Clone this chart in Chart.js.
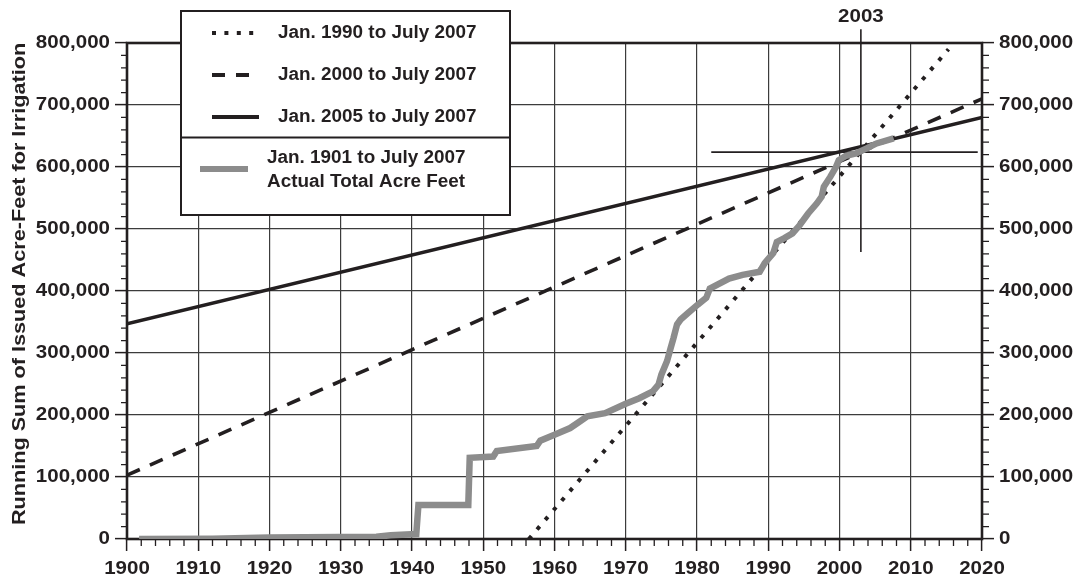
<!DOCTYPE html>
<html>
<head>
<meta charset="utf-8">
<script src="https://cdn.jsdelivr.net/npm/chart.js@4.4.1/dist/chart.umd.min.js"></script>
<style>
  html, body { margin: 0; padding: 0; background: #fff; }
  #wrap { width: 1076px; height: 577px; position: relative; }
</style>
</head>
<body>
<div id="wrap"><canvas id="chart"></canvas></div>
<script>
/* ---------- Daten ---------- */
// Tatsächliche Summe (Jahr / Acre-Feet)
const ACTUAL_YEARS = [1901.7, 1912, 1920, 1935, 1937, 1940.6, 1940.9, 1947.9, 1948.1, 1951.4, 1951.9,
  1957.5, 1958, 1960, 1962.2, 1963.6, 1964.6, 1967.1, 1970, 1971.9, 1973.8, 1974.6, 1975, 1975.8,
  1976.3, 1976.7, 1977.2, 1977.7, 1978.7, 1980.1, 1981.3, 1981.8, 1984.5, 1986.4, 1988.8, 1989.5,
  1990.7, 1991.2, 1992.2, 1993.4, 1994.4, 1995.6, 1996.8, 1997.5, 1997.8, 1998.7, 1999.5, 1999.9,
  2000.9, 2002.3, 2003.8, 2005.2, 2007.6];
const ACTUAL_VALUES = [0, 500, 2500, 3500, 6000, 8000, 55000, 55000, 131000, 133000, 142000,
  150000, 158500, 168000, 179000, 190000, 198000, 203000, 218000, 227000, 238000, 249000, 265000, 287000,
  308000, 324000, 346000, 354000, 364000, 378000, 389000, 404000, 420000, 426000, 431000, 445000,
  461000, 479000, 485000, 493000, 506000, 525000, 541000, 552000, 568000, 584000, 600000, 611000,
  618000, 622000, 630000, 638000, 646000];

// Trendlinien (Anfang / Ende)
const TREND_1990_YEARS = [1956.4, 2015.3];
const TREND_1990_VALUES = [0, 790000];
const TREND_2000_YEARS = [1900, 2020];
const TREND_2000_VALUES = [103000, 710000];
const TREND_2005_YEARS = [1900, 2020];
const TREND_2005_VALUES = [347000, 680000];

// Fadenkreuz bei 2003
const CROSS_YEAR = 2003;
const CROSS_VALUE = 624000;
const CROSS_V_RANGE = [463000, 822000];
const CROSS_H_RANGE = [1982, 2019.4];

// Achsen
const X_TICKS = [1900, 1910, 1920, 1930, 1940, 1950, 1960, 1970, 1980, 1990, 2000, 2010, 2020];
const Y_TICKS = [0, 100000, 200000, 300000, 400000, 500000, 600000, 700000, 800000];
const Y_TITLE = "Running Sum of Issued Acre-Feet for Irrigation";
const LEGEND_LABELS = ["Jan. 1990 to July 2007", "Jan. 2000 to July 2007", "Jan. 2005 to July 2007"];
const LEGEND_ACTUAL = ["Jan. 1901 to July 2007", "Actual Total Acre Feet"];

const INK = "#231f20";
const GRID = "#3c3c3c";
const GRAY = "#8c8c8c";
const FONT = "'Liberation Sans', Arial, Helvetica, sans-serif";
const STRETCH = 1.08;

function pts(xs, ys) { return xs.map((x, i) => ({ x: x, y: ys[i] })); }

function text(ctx, str, x, y, align, size, sx) {
  ctx.save();
  ctx.translate(x, y);
  ctx.scale(sx || STRETCH, 1);
  ctx.font = "bold " + size + "px " + FONT;
  ctx.fillStyle = INK;
  ctx.textAlign = align;
  ctx.textBaseline = "middle";
  ctx.fillText(str, 0, 0);
  ctx.restore();
}

/* ---------- Rahmen, kleine Striche, Texte, Legende ---------- */
const framePlugin = {
  id: "frame",
  beforeDatasetsDraw(chart) {
    const { ctx, chartArea: a, scales } = chart;
    ctx.save();
    ctx.strokeStyle = INK;
    ctx.lineWidth = 1.3;
    ctx.beginPath();
    for (let v = 0; v <= 800000; v += 20000) {
      if (v % 100000 === 0) continue;
      const py = scales.y.getPixelForValue(v);
      ctx.moveTo(a.left - 6, py); ctx.lineTo(a.left, py);
      ctx.moveTo(a.right, py); ctx.lineTo(a.right + 7, py);
    }
    for (let yr = 1900; yr <= 2020; yr += 2) {
      if (yr % 10 === 0) continue;
      const px = scales.x.getPixelForValue(yr);
      ctx.moveTo(px, a.bottom); ctx.lineTo(px, a.bottom + 7);
    }
    ctx.stroke();
    ctx.lineWidth = 2.6;
    ctx.strokeRect(a.left, a.top, a.right - a.left, a.bottom - a.top);
    ctx.restore();
  },
  afterDraw(chart) {
    const { ctx, chartArea: a, scales } = chart;
    // Achsenbeschriftung
    Y_TICKS.forEach((v) => {
      const py = scales.y.getPixelForValue(v);
      const s = v.toLocaleString("en-US");
      text(ctx, s, a.left - 17, py, "right", 19);
      text(ctx, s, a.right + 17, py, "left", 19);
    });
    X_TICKS.forEach((yr) => {
      text(ctx, String(yr), scales.x.getPixelForValue(yr), a.bottom + 30, "center", 19);
    });
    text(ctx, String(CROSS_YEAR), scales.x.getPixelForValue(CROSS_YEAR), 17, "center", 19);

    // Y-Titel (gedreht, in Laufrichtung etwas gestreckt)
    ctx.save();
    ctx.translate(20, 284);
    ctx.rotate(-Math.PI / 2);
    ctx.scale(1.17, 1);
    ctx.font = "bold 18.5px " + FONT;
    ctx.fillStyle = INK;
    ctx.textAlign = "center";
    ctx.textBaseline = "middle";
    ctx.fillText(Y_TITLE, 0, 0);
    ctx.restore();

    // Legende
    const L = 181, T = 11, R = 510, B = 215, D = 137.5;
    ctx.save();
    ctx.fillStyle = "#fff";
    ctx.fillRect(L, T, R - L, B - T);
    ctx.strokeStyle = INK;
    ctx.lineWidth = 2;
    ctx.strokeRect(L, T, R - L, B - T);
    ctx.beginPath(); ctx.moveTo(L, D); ctx.lineTo(R, D); ctx.stroke();

    const rows = [33, 75, 117];
    const styles = [
      { dash: [4, 8.4], w: 4 },
      { dash: [13, 11], w: 4 },
      { dash: [], w: 4 },
    ];
    rows.forEach((ry, i) => {
      ctx.beginPath();
      ctx.setLineDash(styles[i].dash);
      ctx.lineWidth = styles[i].w;
      ctx.strokeStyle = INK;
      ctx.moveTo(212, ry); ctx.lineTo(259, ry);
      ctx.stroke();
      text(ctx, LEGEND_LABELS[i], 278, ry, "left", 17.5);
    });
    ctx.setLineDash([]);
    ctx.beginPath();
    ctx.strokeStyle = GRAY;
    ctx.lineWidth = 6;
    ctx.moveTo(200, 169); ctx.lineTo(248, 169);
    ctx.stroke();
    text(ctx, LEGEND_ACTUAL[0], 267, 158, "left", 17.5);
    text(ctx, LEGEND_ACTUAL[1], 267, 182, "left", 17.5);
    ctx.restore();
  },
};

/* ---------- Chart ---------- */
const ctx = document.getElementById("chart").getContext("2d");

const gridOpts = {
  color: GRID,
  lineWidth: 1.2,
  tickLength: 12,
  tickColor: INK,
  tickWidth: 1.5,
};

new Chart(ctx, {
  type: "line",
  data: {
    datasets: [
      {
        data: pts(ACTUAL_YEARS, ACTUAL_VALUES),
        borderColor: GRAY,
        borderWidth: 6.5,
        borderJoinStyle: "miter",
      },
      {
        data: pts(TREND_1990_YEARS, TREND_1990_VALUES),
        borderColor: INK,
        borderWidth: 4,
        borderDash: [4, 8.6],
      },
      {
        data: pts(TREND_2000_YEARS, TREND_2000_VALUES),
        borderColor: INK,
        borderWidth: 3.6,
        borderDash: [14, 11],
      },
      {
        data: pts(TREND_2005_YEARS, TREND_2005_VALUES),
        borderColor: INK,
        borderWidth: 3.4,
      },
      {
        data: pts([CROSS_YEAR, CROSS_YEAR], CROSS_V_RANGE),
        borderColor: INK,
        borderWidth: 1.6,
        clip: false,
      },
      {
        data: pts(CROSS_H_RANGE, [CROSS_VALUE, CROSS_VALUE]),
        borderColor: INK,
        borderWidth: 1.6,
      },
    ],
  },
  options: {
    responsive: true,
    maintainAspectRatio: false,
    animation: false,
    layout: { padding: { top: 43, left: 0, right: 0, bottom: 0 } },
    elements: { point: { radius: 0 }, line: { tension: 0 } },
    plugins: { legend: { display: false }, tooltip: { enabled: false } },
    scales: {
      x: {
        type: "linear",
        min: 1900,
        max: 2020,
        ticks: { stepSize: 10, display: false },
        grid: gridOpts,
        border: { display: false },
        afterFit: (s) => { s.height = 38; },
      },
      y: {
        min: 0,
        max: 800000,
        ticks: { stepSize: 100000, display: false },
        grid: gridOpts,
        border: { display: false },
        afterFit: (s) => { s.width = 127; },
      },
      y2: {
        position: "right",
        min: 0,
        max: 800000,
        ticks: { stepSize: 100000, display: false },
        grid: Object.assign({}, gridOpts, { drawOnChartArea: false }),
        border: { display: false },
        afterFit: (s) => { s.width = 94; },
      },
    },
  },
  plugins: [framePlugin],
});
</script>
</body>
</html>
